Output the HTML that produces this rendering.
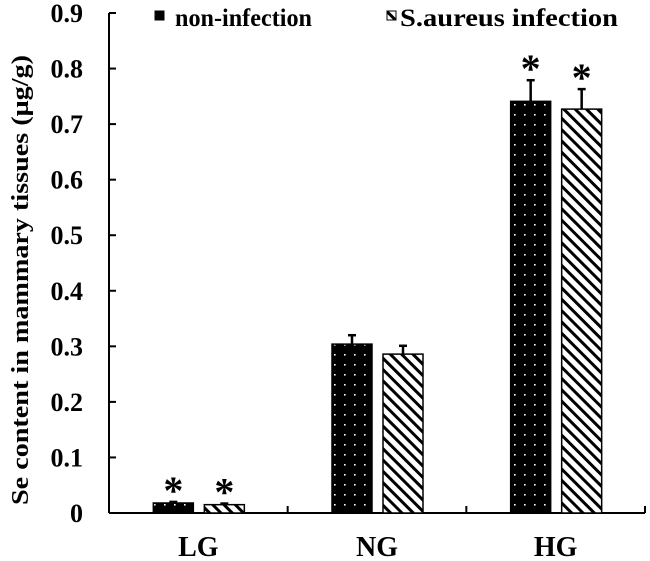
<!DOCTYPE html>
<html><head><meta charset="utf-8"><style>
body{margin:0;background:#fff}
svg{display:block;font-family:"Liberation Serif",serif;font-weight:bold}
</style></head><body>
<svg id="chart" width="650" height="561" viewBox="0 0 650 561">
<defs>
<pattern id="dots" width="10" height="10" patternUnits="userSpaceOnUse"><rect width="10" height="10" fill="#000"/><rect x="4" y="4" width="1.6" height="1.6" fill="#fff"/></pattern>
<pattern id="hatch" width="8" height="8" patternUnits="userSpaceOnUse" patternTransform="rotate(-45)"><rect width="8" height="8" fill="#fff"/><rect x="0" y="0" width="3" height="8" fill="#000"/></pattern>
</defs>
<g id="axes"></g>
<g id="bars"></g>
<g>
<rect x="155" y="11" width="9" height="9" fill="url(#dots)" stroke="#000"/>
<text x="175" y="26" font-size="25" textLength="137" lengthAdjust="spacingAndGlyphs">non-infection</text>
<rect x="387" y="11" width="9" height="9" fill="url(#hatch)" stroke="#000"/>
<text x="400" y="26" font-size="25" textLength="218" lengthAdjust="spacingAndGlyphs">S.aureus infection</text>
</g>
<text transform="translate(28,280) rotate(-90)" text-anchor="middle" font-size="24" textLength="450" lengthAdjust="spacingAndGlyphs">Se content in mammary tissues (μg/g)</text>
</svg>
<script>
const categories=["LG","NG","HG"];
const nonInfection=[0.018,0.304,0.741];
const nonInfectionErr=[0.002,0.016,0.038];
const saureus=[0.015,0.286,0.727];
const saureusErr=[0.002,0.015,0.036];
const nonSig=[true,false,true];
const saSig=[true,false,true];
const yTicks=["0","0.1","0.2","0.3","0.4","0.5","0.6","0.7","0.8","0.9"];
const NS="http://www.w3.org/2000/svg";
const x0=109,x1=645,y0=513,yTop=13,yMax=0.9;
const band=(x1-x0)/categories.length;
const y=v=>y0-(v/yMax)*(y0-yTop);
function mk(tag,attrs,parent){const e=document.createElementNS(NS,tag);for(const k in attrs)e.setAttribute(k,attrs[k]);parent.appendChild(e);return e;}
const ax=document.getElementById('axes'),bg=document.getElementById('bars');
const yl=mk('line',{x1:x0,y1:yTop,x2:x0,y2:y0,stroke:'#000','stroke-width':2},ax);


const xl=mk('line',{x1:x0,y1:y0,x2:x1,y2:y0,stroke:'#000','stroke-width':2},ax);


yTicks.forEach((t,i)=>{const v=parseFloat(t);const yy=y(v);
 const tk=mk('line',{x1:x0,y1:yy,x2:x0+7,y2:yy,stroke:'#000','stroke-width':2},ax);
 
 
 const tx=mk('text',{x:83,y:yy+9,'text-anchor':'end','font-size':26},ax);tx.textContent=t;
 
 
});
categories.forEach((c,i)=>{
 const xr=x0+band*(i+1);
 const tk=mk('line',{x1:xr,y1:y0,x2:xr,y2:y0-7,stroke:'#000','stroke-width':2},ax);
 
 
 const cx=x0+band*(i+0.5);
 const tx=mk('text',{x:cx,y:556,'text-anchor':'middle','font-size':28},ax);tx.textContent=c;
 
 
 [[nonInfection,nonInfectionErr,nonSig,'url(#dots)',-45,'non-infection'],[saureus,saureusErr,saSig,'url(#hatch)',6,'saureus']].forEach(([vals,errs,sig,fill,off,nm])=>{
  const bx=cx+off,w=40,top=y(vals[i]),et=y(vals[i]+errs[i]);
  const el=mk('line',{x1:bx+w/2,y1:top,x2:bx+w/2,y2:et,stroke:'#000','stroke-width':2.5},bg);
  
  
  const cap=mk('line',{x1:bx+w/2-4,y1:et,x2:bx+w/2+4,y2:et,stroke:'#000','stroke-width':2.5},bg);
  
  
  const r=mk('rect',{x:bx,y:top,width:w,height:y0-top,fill:fill,stroke:'#000','stroke-width':1.5},bg);
  
  
  if(sig[i]){const s=mk('text',{x:bx+w/2,y:et+2,'text-anchor':'middle','font-size':40},bg);s.textContent='*';
   
   }
 });
});
</script>
</body></html>
